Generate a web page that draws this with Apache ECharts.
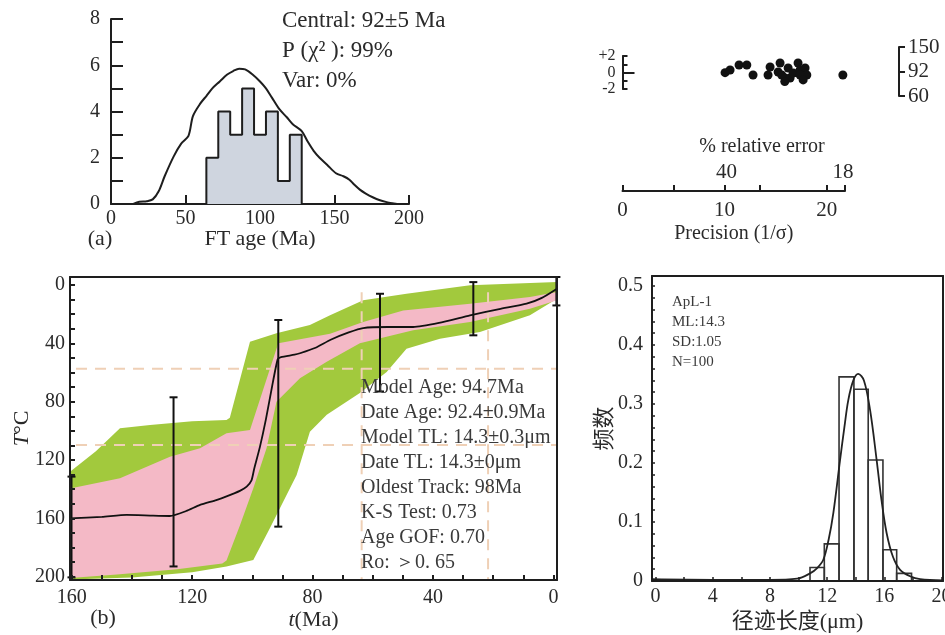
<!DOCTYPE html>
<html>
<head>
<meta charset="utf-8">
<script src="https://cdn.jsdelivr.net/npm/echarts@6/dist/echarts.min.js"></script>
<style>
  html, body { margin: 0; padding: 0; background: #fff; }
  #main { width: 945px; height: 635px; }
</style>
</head>
<body>
<div id="main"></div>
<script>
// ---- (a) FT age histogram + probability curve
const ageBinStart = [64, 72, 80, 88, 96, 104, 112, 120];
const ageBinWidth = 8;
const ageCounts = [2, 4, 3, 5, 3, 4, 1, 3];
const ageCurve = [[15,0],[19,0.1],[24,0.12],[28,0.2],[32,0.55],[36,1.2],[42,2.05],[47,2.6],[52,2.95],[55,3.8],[60,4.35],[64,4.67],[68,5.0],[73,5.3],[78,5.6],[82,5.75],[86,5.85],[90,5.82],[95,5.6],[100,5.3],[104,5.0],[108,4.6],[113,4.1],[118,3.75],[122,3.45],[128,3.15],[132,2.7],[136,2.3],[140,2.0],[145,1.7],[151,1.33],[156,1.2],[160,1.05],[163,0.85],[167,0.62],[171,0.45],[176,0.28],[180,0.17],[185,0.08],[189,0.03],[192,0],[200,0]];
const ageText = ['Central: 92±5 Ma', 'P (χ² ): 99%', 'Var: 0%'];

// ---- radial plot
const radialPrecision = [10.05, 10.54, 11.42, 12.18, 12.79, 14.46, 14.26, 15.44, 15.25, 15.6, 16.23, 15.93, 16.42, 15.9, 16.72, 17.2, 17.4, 17.89, 18.06, 17.4, 17.7, 21.59];
const radialZ = [-0.02, 0.3, 0.91, 0.91, -0.3, 0.67, -0.3, 1.15, 0.06, -0.3, 0.55, -0.67, -0.67, -1.1, -0.06, 1.15, 0.3, 0.55, -0.3, -0.3, -0.9, -0.3];
const zTickLabels = [-2, 0, 2];
const ageScaleLabels = ['60', '92', '150'];
const precisionLabels = [0, 10, 20];
const precisionTicks = [0, 5, 10, 13.4, 20, 21.8];
const relErrAt = [10.2, 21.6];
const relErrLabels = ['40', '18'];

// ---- (b) thermal history (t in Ma, T in °C)
const greenUpper = [[160.6,128],[152,114],[144,98.3],[134,96],[120,93.5],[108.6,92.6],[107.5,91],[100.8,38.9],[92,33.1],[80.9,27.4],[74.2,20.8],[63.2,10.5],[48.8,6],[27.7,0.2],[-1.2,-2]];
const greenLower = [[160.6,202],[140,200.5],[120,197],[108.6,193],[99.7,188.6],[94.2,166.8],[85.3,130.3],[80.9,100.6],[75.3,89],[64.3,74],[55.4,59.7],[48.8,43.7],[37.7,36.8],[24.4,32.2],[7.8,20.8],[-1.2,9.4]];
const pinkUpper = [[160.6,139.5],[144,132.6],[127.4,117.7],[117.4,112],[108.6,101.7],[100.8,99.4],[91.4,40],[74.2,33.4],[63.2,25.4],[49.9,17.4],[27.7,12.8],[7.8,8.2],[-1.2,4.8]];
const pinkLower = [[160.6,201],[145,198.5],[125,195],[110,191],[108.6,189],[104,164],[99.7,139.4],[95.3,112],[92,80],[84.2,64],[75.3,52.6],[64.3,40],[46.6,31],[27.7,25.4],[7.8,16.2],[-1.2,10.5]];
const meanPath = [[160.6,160],[150,159],[141.8,157.7],[133,158.2],[127.4,158.4],[122,155],[117.4,150.8],[112,147.5],[108.6,145],[104,141],[101.9,138.3],[100.3,134],[99.4,126],[97.5,111],[95.5,92],[93.5,70],[91.6,51],[90.5,49.5],[86,47.8],[84.2,46.8],[79,43],[74,37.5],[68,32.5],[63.2,29.5],[55,28.8],[46.6,28.8],[38,26],[27.7,20.8],[18,16.5],[8.9,12.8],[4,9],[-1.2,2.5]];
const errT = [160.1, 126.2, 91.4, 57.6, 26.6, -1.0];
const errLow = [131.4, 77, 24, 6, -2, -5.5];
const errHigh = [200.5, 193, 165.7, 73, 34.5, 14];
const boxTemps = [57.4, 109.7];
const boxTimes = [63.7, 21.7];
const modelText = ['Model Age: 94.7Ma', 'Date Age: 92.4±0.9Ma', 'Model TL: 14.3±0.3μm', 'Date TL: 14.3±0μm',
  'Oldest Track: 98Ma', 'K-S Test: 0.73', 'Age GOF: 0.70', 'Ro: ＞0. 65'];
const timeTicks = [0, 10, 20, 30, 40, 50, 60, 70, 80, 90, 100, 110, 120, 130, 140, 150, 160];
const timeLabels = [0, 40, 80, 120, 160];
const tempTicks = [0, 10, 20, 30, 40, 50, 60, 70, 80, 90, 100, 110, 120, 130, 140, 150, 160, 170, 180, 190, 200];
const tempLabels = [0, 40, 80, 120, 160, 200];

// ---- (c) track length distribution
const lenEdges = [10.8, 11.8, 12.83, 13.87, 14.87, 15.9, 16.86, 17.9];
const lenFreq = [0.023, 0.063, 0.346, 0.325, 0.205, 0.053, 0.013];
const lenCurve = [[-0.25,0.003],[4,0.002],[8,0.002],[9.9,0.004],[10.8,0.013],[11.3,0.022],[11.73,0.036],[12.1,0.07],[12.43,0.115],[12.9,0.205],[13.2,0.26],[13.48,0.307],[13.83,0.34],[14.17,0.351],[14.57,0.34],[15,0.29],[15.46,0.205],[15.8,0.137],[16.16,0.081],[16.6,0.041],[17.1,0.019],[17.8,0.008],[18.5,0.003],[20.1,0.001]];
const lenText = ['ApL-1', 'ML:14.3', 'SD:1.05', 'N=100'];
const lenTicks = [0, 2, 4, 6, 8, 10, 12, 14, 16, 18, 20];
const lenLabels = [0, 4, 8, 12, 16, 20];
const freqTicks = [0, 0.02, 0.04, 0.06, 0.08, 0.1, 0.12, 0.14, 0.16, 0.18, 0.2, 0.22, 0.24, 0.26, 0.28, 0.3, 0.32, 0.34, 0.36, 0.38, 0.4, 0.42, 0.44, 0.46, 0.48, 0.5];
const freqLabels = [0, 0.1, 0.2, 0.3, 0.4, 0.5];

const serif = '"Liberation Serif", "Times New Roman", serif';
const cjk = '"Liberation Serif", "Noto Sans CJK SC", serif';
const ink = '#1e1e1e';
const txt = '#2a2a2a';

// histogram outline built from the bins
const ageOutline = [[ageBinStart[0], 0]];
ageBinStart.forEach((s, i) => {
  ageOutline.push([s, ageCounts[i]]);
  ageOutline.push([s + ageBinWidth, ageCounts[i]]);
});
ageOutline.push([ageBinStart[ageBinStart.length - 1] + ageBinWidth, 0]);

// axis indices
const AX = { a: 0, pts: 1, scale: 2, prec: 3, rel: 4, b: 5, bTop: 6, c: 7, cTop: 8 };
const AY = { a: 0, pts: 1, zero: 2, scale: 3, prec: 4, b: 5, bRight: 6, c: 7, cRight: 8 };

function band(upper, lower, color) {
  return {
    type: 'custom', xAxisIndex: AX.b, yAxisIndex: AY.b, z: 1, silent: true,
    data: [upper[0]],
    renderItem: function (params, api) {
      const pts = upper.concat(lower.slice().reverse()).map(p => api.coord(p));
      return { type: 'polygon', shape: { points: pts }, style: { fill: color } };
    }
  };
}

function dashed(data) {
  return {
    type: 'line', xAxisIndex: AX.b, yAxisIndex: AY.b, z: 3, silent: true, symbol: 'none',
    data: data, lineStyle: { color: '#efd0b6', width: 2, type: [11, 8] }
  };
}

const axLine = (w) => ({ show: true, onZero: false, lineStyle: { color: ink, width: w || 2 } });
const tick = (len, vals, w) => ({ show: true, inside: true, length: len, customValues: vals, lineStyle: { color: ink, width: w || 2 } });

const lineAxis = (extra) => Object.assign({
  axisLine: axLine(2),
  axisTick: { show: false }, axisLabel: { show: false }, splitLine: { show: false }, z: 10
}, extra);

var myChart = echarts.init(document.getElementById('main'));

const gridBase = { outerBoundsMode: 'none', containLabel: false };

const option = {
  animation: false,
  backgroundColor: '#fff',
  grid: [
    Object.assign({ left: 111, top: 19, width: 298, height: 185 }, gridBase),      // 0 (a)
    Object.assign({ left: 622.5, top: 56, width: 222.5, height: 33 }, gridBase),   // 1 radial points
    Object.assign({ left: 898, top: 47, width: 1, height: 49 }, gridBase),         // 2 age scale
    Object.assign({ left: 622.5, top: 150, width: 222.5, height: 41 }, gridBase),  // 3 precision
    Object.assign({ left: 70, top: 277, width: 487, height: 303 }, gridBase),      // 4 (b)
    Object.assign({ left: 652, top: 276, width: 291, height: 305 }, gridBase)      // 5 (c)
  ],
  xAxis: [
    { gridIndex: 0, type: 'value', min: 0, max: 200, interval: 50, position: 'bottom',
      axisLine: axLine(2),
      axisTick: { show: true, inside: true, length: 9, lineStyle: { color: ink, width: 2 } },
      axisLabel: { color: txt, fontSize: 20, fontFamily: serif, margin: 5 },
      splitLine: { show: false },
      name: 'FT age (Ma)', nameLocation: 'middle', nameGap: 24, nameMoveOverlap: false,
      nameTextStyle: { color: txt, fontSize: 22, fontFamily: serif } },
    { gridIndex: 1, type: 'value', min: 0, max: 21.8, show: false },
    { gridIndex: 2, type: 'value', min: 0, max: 1, show: false },
    { gridIndex: 3, type: 'value', min: 0, max: 21.8, position: 'bottom',
      axisLine: axLine(2),
      axisTick: tick(6, precisionTicks),
      axisLabel: { customValues: precisionLabels, color: txt, fontSize: 21, fontFamily: serif, margin: 9 },
      splitLine: { show: false },
      name: 'Precision (1/σ)', nameLocation: 'middle', nameGap: 33, nameMoveOverlap: false,
      nameTextStyle: { color: txt, fontSize: 20, fontFamily: serif } },
    { gridIndex: 3, type: 'value', min: 0, max: 21.8, position: 'bottom',
      axisLine: { show: false, onZero: false }, axisTick: { show: false }, splitLine: { show: false },
      axisLabel: { inside: true, customValues: relErrAt, margin: 8, color: txt, fontSize: 21, fontFamily: serif,
        formatter: v => relErrLabels[relErrAt.indexOf(v)] } },
    { gridIndex: 4, type: 'value', inverse: true, min: -1.2, max: 160.6, position: 'bottom', z: 10,
      axisLine: axLine(2),
      axisTick: tick(5, timeTicks),
      axisLabel: { customValues: timeLabels, color: txt, fontSize: 20, fontFamily: serif, margin: 8 },
      splitLine: { show: false },
      name: '{i|t}(Ma)', nameLocation: 'middle', nameGap: 29, nameMoveOverlap: false,
      nameTextStyle: { color: txt, fontSize: 22, fontFamily: serif, rich: { i: { fontStyle: 'italic', fontSize: 22, fontFamily: serif, color: txt } } } },
    lineAxis({ gridIndex: 4, type: 'value', inverse: true, min: -1.2, max: 160.6, position: 'top' }),
    { gridIndex: 5, type: 'value', min: -0.25, max: 20.1, position: 'bottom', z: 10,
      axisLine: axLine(2),
      axisTick: tick(4, lenTicks, 1.5),
      axisLabel: { customValues: lenLabels, color: txt, fontSize: 20, fontFamily: serif, margin: 6 },
      splitLine: { show: false },
      name: '径迹长度(μm)', nameLocation: 'middle', nameGap: 30, nameMoveOverlap: false,
      nameTextStyle: { color: txt, fontSize: 22, fontFamily: cjk } },
    lineAxis({ gridIndex: 5, type: 'value', min: -0.25, max: 20.1, position: 'top' })
  ],
  yAxis: [
    { gridIndex: 0, type: 'value', min: 0, max: 8, interval: 1, position: 'left',
      axisLine: axLine(2),
      axisTick: { show: true, inside: true, length: 12, lineStyle: { color: ink, width: 2 } },
      axisLabel: { color: txt, fontSize: 20, fontFamily: serif, margin: 11, formatter: v => (v % 2 === 0 ? String(v) : '') },
      splitLine: { show: false } },
    { gridIndex: 1, type: 'value', min: -2, max: 2, position: 'left',
      axisLine: axLine(2),
      axisTick: tick(5, [-2, -1, 0, 1, 2]),
      axisLabel: { customValues: zTickLabels, color: txt, fontSize: 16, fontFamily: serif, margin: 7,
        hideOverlap: false, showMinLabel: true, showMaxLabel: true,
        formatter: v => (v > 0 ? '+' + v : String(v)) },
      splitLine: { show: false } },
    { gridIndex: 1, type: 'value', min: -2, max: 2, position: 'left',
      axisLine: { show: false, onZero: false }, axisLabel: { show: false }, splitLine: { show: false },
      axisTick: tick(12, [0]) },
    { gridIndex: 2, type: 'category', data: ageScaleLabels, boundaryGap: false, position: 'right',
      axisLine: axLine(2),
      axisTick: { show: true, length: 6, interval: 0, lineStyle: { color: ink, width: 2 } },
      axisLabel: { color: txt, fontSize: 21, fontFamily: serif, margin: 9, interval: 0, hideOverlap: false },
      splitLine: { show: false } },
    { gridIndex: 3, type: 'value', min: 0, max: 1, show: false },
    { gridIndex: 4, type: 'value', inverse: true, min: -5.5, max: 202.3, position: 'left', z: 10,
      axisLine: axLine(2),
      axisTick: tick(5, tempTicks),
      axisLabel: { customValues: tempLabels, color: txt, fontSize: 20, fontFamily: serif, margin: 5 },
      splitLine: { show: false },
      name: '{i|T}°C', nameLocation: 'middle', nameGap: 37, nameMoveOverlap: false,
      nameTextStyle: { color: txt, fontSize: 22, fontFamily: serif, rich: { i: { fontStyle: 'italic', fontSize: 22, fontFamily: serif, color: txt } } } },
    lineAxis({ gridIndex: 4, type: 'value', inverse: true, min: -5.5, max: 202.3, position: 'right' }),
    { gridIndex: 5, type: 'value', min: 0, max: 0.517, position: 'left', z: 10,
      axisLine: axLine(2),
      axisTick: tick(3, freqTicks, 1.5),
      axisLabel: { customValues: freqLabels, color: txt, fontSize: 20, fontFamily: serif, margin: 9,
        formatter: v => (v === 0 ? '0' : v.toFixed(1)) },
      splitLine: { show: false },
      name: '频数', nameLocation: 'middle', nameGap: 36, nameMoveOverlap: false,
      nameTextStyle: { color: txt, fontSize: 22, fontFamily: cjk } },
    lineAxis({ gridIndex: 5, type: 'value', min: 0, max: 0.517, position: 'right' })
  ],
  graphic: [].concat(
    ageText.map((s, i) => ({
      type: 'text', x: 282, y: 21 + i * 30, z: 100,
      style: { text: s, fill: txt, font: '23px ' + serif, verticalAlign: 'middle' }
    })),
    [
      { type: 'text', x: 100, y: 239, z: 100, style: { text: '(a)', fill: txt, font: '22px ' + serif, align: 'center', verticalAlign: 'middle' } },
      { type: 'text', x: 103, y: 618, z: 100, style: { text: '(b)', fill: txt, font: '22px ' + serif, align: 'center', verticalAlign: 'middle' } },
      { type: 'text', x: 762, y: 147, z: 100, style: { text: '% relative error', fill: txt, font: '20px ' + serif, align: 'center', verticalAlign: 'middle' } }
    ],
    modelText.map((s, i) => ({
      type: 'text', x: 361, y: 388 + i * 25, z: 100,
      style: { text: s, fill: '#3a3a3a', font: '20px ' + serif, verticalAlign: 'middle' }
    })),
    lenText.map((s, i) => ({
      type: 'text', x: 672, y: 302 + i * 20, z: 100,
      style: { text: s, fill: '#3a3a3a', font: '15px ' + serif, verticalAlign: 'middle' }
    }))
  ),
  series: [
    // (a)
    { type: 'line', xAxisIndex: AX.a, yAxisIndex: AY.a, symbol: 'none', z: 2,
      data: ageOutline, lineStyle: { color: ink, width: 2 }, areaStyle: { color: '#cfd5df', opacity: 1 } },
    { type: 'line', xAxisIndex: AX.a, yAxisIndex: AY.a, symbol: 'none', smooth: 0.3, z: 3,
      data: ageCurve, lineStyle: { color: ink, width: 2 } },
    // radial plot
    { type: 'scatter', xAxisIndex: AX.pts, yAxisIndex: AY.pts, symbolSize: 9,
      itemStyle: { color: '#111', opacity: 1 },
      data: radialPrecision.map((p, i) => [p, radialZ[i]]) },
    // (b)
    band(greenUpper, greenLower, '#a2c93d'),
    band(pinkUpper, pinkLower, '#f4b9c6'),
    dashed([[158.6, boxTemps[0]], [-1.2, boxTemps[0]]]),
    dashed([[158.6, boxTemps[1]], [-1.2, boxTemps[1]]]),
    dashed([[boxTimes[0], 5], [boxTimes[0], 202.3]]),
    dashed([[boxTimes[1], 5], [boxTimes[1], 202.3]]),
    { type: 'line', xAxisIndex: AX.b, yAxisIndex: AY.b, symbol: 'none', z: 4, smooth: 0.2,
      data: meanPath, lineStyle: { color: '#111', width: 1.8 } },
    { type: 'custom', xAxisIndex: AX.b, yAxisIndex: AY.b, z: 5, clip: false,
      data: errT.map((t, i) => [t, errLow[i], errHigh[i]]),
      renderItem: function (params, api) {
        const a = api.coord([api.value(0), api.value(1)]);
        const b = api.coord([api.value(0), api.value(2)]);
        const w = 4;
        const st = { stroke: '#111', lineWidth: 2 };
        return { type: 'group', children: [
          { type: 'line', shape: { x1: a[0], y1: a[1], x2: b[0], y2: b[1] }, style: st },
          { type: 'line', shape: { x1: a[0] - w, y1: a[1], x2: a[0] + w, y2: a[1] }, style: st },
          { type: 'line', shape: { x1: b[0] - w, y1: b[1], x2: b[0] + w, y2: b[1] }, style: st }
        ] };
      } },
    // (c)
    { type: 'custom', xAxisIndex: AX.c, yAxisIndex: AY.c, z: 3,
      data: lenFreq.map((f, i) => [lenEdges[i], lenEdges[i + 1], f]),
      renderItem: function (params, api) {
        const p0 = api.coord([api.value(0), api.value(2)]);
        const p1 = api.coord([api.value(1), 0]);
        return { type: 'rect', shape: { x: p0[0], y: p0[1], width: p1[0] - p0[0], height: p1[1] - p0[1] },
          style: { fill: 'none', stroke: '#333', lineWidth: 1.6 } };
      } },
    { type: 'line', xAxisIndex: AX.c, yAxisIndex: AY.c, symbol: 'none', smooth: 0.35, z: 4,
      data: lenCurve, lineStyle: { color: '#222', width: 1.8 } }
  ]
};

myChart.setOption(option);
</script>
</body>
</html>
